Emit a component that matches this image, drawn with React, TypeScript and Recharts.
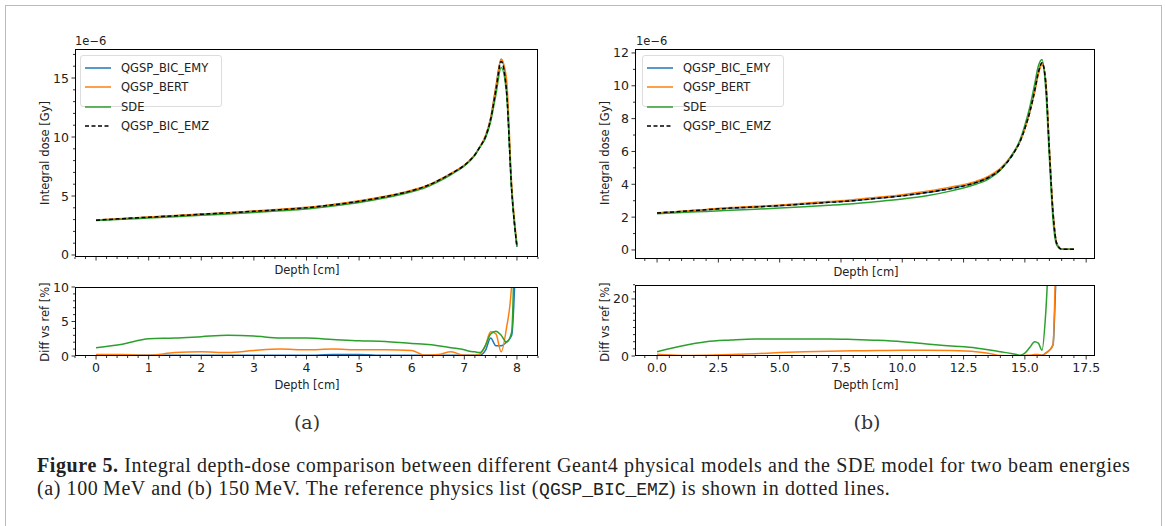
import React from 'react';
import { LineChart, Line, XAxis, YAxis } from 'recharts';

// ---------- data (a) 100 MeV ----------
const depthA = [0, 0.5, 1, 1.5, 2, 2.5, 3, 3.5, 4, 4.5, 5, 5.5, 6, 6.25, 6.5, 6.75, 7, 7.1, 7.2, 7.3, 7.4, 7.5, 7.6, 7.7, 7.8, 7.9, 8.0];
const doseA_EMZ = [2.95, 3.08, 3.2, 3.32, 3.45, 3.57, 3.7, 3.84, 4.0, 4.25, 4.55, 4.95, 5.45, 5.8, 6.3, 6.9, 7.6, 8.0, 8.5, 9.2, 10.0, 11.5, 14.0, 16.4, 14.0, 5.5, 0.7];
const doseA_EMY = [2.95, 3.08, 3.2, 3.32, 3.45, 3.57, 3.7, 3.84, 4.0, 4.25, 4.55, 4.95, 5.45, 5.8, 6.3, 6.9, 7.6, 8.0, 8.5, 9.2, 10.0, 11.6, 14.2, 16.6, 14.3, 5.6, 0.7];
const doseA_BERT = [2.96, 3.09, 3.21, 3.34, 3.47, 3.59, 3.73, 3.88, 4.04, 4.29, 4.6, 4.97, 5.5, 5.82, 6.33, 6.94, 7.61, 8.0, 8.5, 9.2, 10.1, 11.6, 14.3, 16.6, 15.0, 6.0, 0.9];
const doseA_SDE = [2.92, 3.03, 3.13, 3.24, 3.36, 3.47, 3.6, 3.74, 3.9, 4.15, 4.45, 4.85, 5.36, 5.7, 6.2, 6.82, 7.55, 7.95, 8.45, 9.15, 9.9, 11.3, 13.6, 15.9, 13.8, 5.4, 0.7];
const diffA_EMY = [0.1, 0.1, 0.1, 0.1, 0.1, 0.1, 0.1, 0.1, 0.1, 0.2, 0.2, 0.1, 0.1, 0.1, 0.1, 0.1, 0.1, 0.1, 0.1, 0.1, 0.8, 2.6, 1.5, 1.5, 2.0, 3.0, 20];
const diffA_BERT = [0.2, 0.2, 0.1, 0.5, 0.6, 0.5, 0.8, 1.0, 0.9, 1.0, 0.9, 0.9, 0.8, 0.1, 0.2, 0.6, 0.1, 0.1, 0.1, 0.3, 1.5, 3.5, 3.2, 0.6, 4.0, 10.5, 30];
const diffA_SDE = [1.2, 1.7, 2.5, 2.6, 2.8, 3.0, 2.9, 2.6, 2.6, 2.4, 2.2, 2.1, 1.8, 1.7, 1.5, 1.2, 0.9, 0.7, 0.6, 0.5, 1.5, 3.2, 3.6, 3.0, 2.0, 3.5, 40];

// ---------- data (b) 150 MeV ----------
const depthB = [0, 1, 2, 3, 4, 5, 6, 7, 8, 9, 10, 11, 12, 13, 13.5, 14, 14.5, 14.8, 15, 15.2, 15.4, 15.55, 15.7, 15.85, 16.0, 16.15, 16.3, 16.5, 17];
const doseB_EMZ = [2.25, 2.35, 2.45, 2.55, 2.62, 2.7, 2.8, 2.9, 3.0, 3.15, 3.3, 3.5, 3.75, 4.1, 4.4, 4.9, 5.8, 6.6, 7.4, 8.4, 9.7, 10.8, 11.4, 10.2, 6.0, 2.2, 0.4, 0.05, 0.05];
const doseB_EMY = [2.25, 2.35, 2.45, 2.55, 2.62, 2.7, 2.8, 2.9, 3.0, 3.15, 3.3, 3.5, 3.75, 4.1, 4.4, 4.9, 5.8, 6.6, 7.4, 8.4, 9.7, 10.8, 11.4, 10.3, 6.1, 2.3, 0.4, 0.05, 0.05];
const doseB_BERT = [2.26, 2.36, 2.47, 2.58, 2.66, 2.74, 2.85, 2.95, 3.06, 3.21, 3.37, 3.57, 3.83, 4.18, 4.48, 4.97, 5.85, 6.6, 7.4, 8.4, 9.6, 10.7, 11.3, 10.3, 6.2, 2.3, 0.4, 0.05, 0.05];
const doseB_SDE = [2.2, 2.28, 2.35, 2.42, 2.48, 2.55, 2.63, 2.72, 2.82, 2.95, 3.1, 3.3, 3.6, 4.0, 4.3, 4.85, 5.85, 6.7, 7.6, 8.7, 10.1, 11.2, 11.6, 9.8, 5.6, 1.8, 0.3, 0.05, 0.05];
const diffB_EMY = [0.3, 0.1, 0.1, 0.1, 0.1, 0.1, 0.1, 0.1, 0.1, 0.1, 0.1, 0.1, 0.1, 0.1, 0.1, 0.1, 0.1, 0.1, 0.1, 0.1, 0.2, 0.3, 0.3, 1.0, 2.0, 4.0, 30, 30, 30];
const diffB_BERT = [0.6, 0.2, 0.3, 0.5, 0.8, 1.2, 1.5, 1.7, 1.8, 1.9, 2.0, 2.0, 1.9, 1.5, 1.0, 0.2, 0.1, 0.1, 0.2, 0.3, 0.5, 0.5, 0.2, 1.0, 2.0, 4.0, 40, 40, 40];
const diffB_SDE = [1.5, 3.5, 5.0, 5.6, 6.0, 6.0, 6.0, 6.0, 5.8, 5.5, 5.0, 4.2, 3.5, 2.8, 2.2, 1.5, 0.8, 0.3, 1.0, 3.0, 5.0, 4.5, 2.0, 15, 40, 60, 60, 60, 60];

const seriesNames = ['QGSP_BIC_EMY', 'QGSP_BERT', 'SDE', 'QGSP_BIC_EMZ'];
const colors = ['#1f77b4', '#ff7f0e', '#2ca02c', '#000000'];

const ticksAX = [-0.4, -0.2, 0, 0.2, 0.4, 0.6, 0.8, 1, 1.2, 1.4, 1.6, 1.8, 2, 2.2, 2.4, 2.6, 2.8, 3, 3.2, 3.4, 3.6, 3.8, 4, 4.2, 4.4, 4.6, 4.8, 5, 5.2, 5.4, 5.6, 5.8, 6, 6.2, 6.4, 6.6, 6.8, 7, 7.2, 7.4, 7.6, 7.8, 8, 8.2, 8.4];
const majorAX = [0, 1, 2, 3, 4, 5, 6, 7, 8];
const ticksBX = [-0.5, 0, 0.5, 1, 1.5, 2, 2.5, 3, 3.5, 4, 4.5, 5, 5.5, 6, 6.5, 7, 7.5, 8, 8.5, 9, 9.5, 10, 10.5, 11, 11.5, 12, 12.5, 13, 13.5, 14, 14.5, 15, 15.5, 16, 16.5, 17, 17.5];
const majorBX = [0, 2.5, 5, 7.5, 10, 12.5, 15, 17.5];
const ticksAY = [0, 1, 2, 3, 4, 5, 6, 7, 8, 9, 10, 11, 12, 13, 14, 15, 16, 17];
const majorAY = [0, 5, 10, 15];
const ticksAD = [0, 1, 2, 3, 4, 5, 6, 7, 8, 9, 10];
const majorAD = [0, 5, 10];
const ticksBY = [0, 1, 2, 3, 4, 5, 6, 7, 8, 9, 10, 11, 12];
const majorBY = [0, 2, 4, 6, 8, 10, 12];
const ticksBD = [0, 2.5, 5, 7.5, 10, 12.5, 15, 17.5, 20, 22.5, 25];
const majorBD = [0, 20];

const fmt = (v: number, dec: number) => (dec > 0 ? v.toFixed(dec) : String(v));

function XTick(props: any) {
  const { x, y, payload, majors, showLabel, dec } = props;
  const isMajor = majors.includes(payload.value);
  return (
    <g>
      <line x1={x} x2={x} y1={y} y2={y + (isMajor ? 3.5 : 2)} stroke="#000" strokeWidth={0.8} />
      {isMajor && showLabel && (
        <text x={x} y={y + 16} textAnchor="middle" fontSize={12.5} fill="#222" fontFamily="DejaVu Sans">
          {fmt(payload.value, dec)}
        </text>
      )}
    </g>
  );
}
function YTick(props: any) {
  const { x, y, payload, majors } = props;
  const isMajor = majors.includes(payload.value);
  return (
    <g>
      <line x1={x} x2={x - (isMajor ? 3.5 : 2)} y1={y} y2={y} stroke="#000" strokeWidth={0.8} />
      {isMajor && (
        <text x={x - 6} y={y + 4.5} textAnchor="end" fontSize={12.5} fill="#222" fontFamily="DejaVu Sans">
          {payload.value}
        </text>
      )}
    </g>
  );
}

type PanelProps = {
  left: number; top: number; w: number; h: number;
  xs: number[]; ys: number[][];
  xDomain: [number, number]; yDomain: [number, number];
  xTicks: number[]; xMajors: number[]; yTicks: number[]; yMajors: number[];
  showXLabels: boolean; dec: number;
};

function Panel(p: PanelProps) {
  const data = p.xs.map((x, i) => ({ x, s0: p.ys[0][i], s1: p.ys[1][i], s2: p.ys[2][i], s3: p.ys[3][i] }));
  return (
    <>
      <div style={{ position: 'absolute', left: p.left - 60, top: p.top - 10 }}>
        <LineChart width={p.w + 70} height={p.h + 45} data={data} margin={{ top: 10, right: 10, left: 10, bottom: 5 }}>
          <XAxis dataKey="x" type="number" domain={p.xDomain} ticks={p.xTicks} interval={0} allowDataOverflow
            axisLine={false} tickLine={false} tickSize={0} tickMargin={0} height={30}
            tick={<XTick majors={p.xMajors} showLabel={p.showXLabels} dec={p.dec} />} />
          <YAxis type="number" domain={p.yDomain} ticks={p.yTicks} interval={0} allowDataOverflow
            axisLine={false} tickLine={false} tickSize={0} tickMargin={0} width={50}
            tick={<YTick majors={p.yMajors} />} />
          {[0, 1, 2, 3].map((k) => (
            <Line key={k} dataKey={'s' + k} type="monotone" dot={false} isAnimationActive={false}
              stroke={colors[k]} strokeWidth={1.5} strokeDasharray={k === 3 ? '4 2.5' : undefined} />
          ))}
        </LineChart>
      </div>
      <div style={{ position: 'absolute', left: p.left, top: p.top, width: p.w, height: p.h, border: '0.8px solid #000', boxSizing: 'border-box', pointerEvents: 'none' }} />
    </>
  );
}

function Legend({ left, top }: { left: number; top: number }) {
  return (
    <div style={{ position: 'absolute', left, top, width: 142, height: 52, border: '1px solid #ddd', borderRadius: 3, background: 'rgba(255,255,255,0.8)', fontFamily: 'DejaVu Sans', fontSize: 11.5, color: '#222', padding: '2px 0 0 4px', boxSizing: 'border-box' }}>
      {seriesNames.map((n, i) => (
        <div key={n} style={{ display: 'flex', alignItems: 'center', height: 19.5 }}>
          <svg width={26} height={6}><line x1={0} x2={26} y1={3} y2={3} stroke={colors[i]} strokeWidth={1.5} strokeDasharray={i === 3 ? '4 2.5' : undefined} /></svg>
          <span style={{ marginLeft: 10 }}>{n}</span>
        </div>
      ))}
    </div>
  );
}

const sans: React.CSSProperties = { position: 'absolute', fontFamily: 'DejaVu Sans', fontSize: 11.5, color: '#222', whiteSpace: 'nowrap' };
const VLabel = ({ cx, cy, text }: { cx: number; cy: number; text: string }) => (
  <div style={{ ...sans, left: cx, top: cy, transform: 'translate(-50%,-50%) rotate(-90deg)' }}>{text}</div>
);
const HLabel = ({ cx, cy, text }: { cx: number; cy: number; text: string }) => (
  <div style={{ ...sans, left: cx, top: cy, transform: 'translate(-50%,-50%)' }}>{text}</div>
);

export default function App() {
  return (
    <div style={{ position: 'absolute', left: 0, top: 0, width: 1165, height: 526, background: '#fff', overflow: 'hidden' }}>
      <div style={{ position: 'absolute', left: 5, top: 5, width: 1155, height: 540, border: '1px solid #bbb' }} />
      {/* panel a */}
      <Panel left={75} top={49} w={463} h={208} xs={depthA} ys={[doseA_EMY, doseA_BERT, doseA_SDE, doseA_EMZ]}
        xDomain={[-0.4, 8.4]} yDomain={[-0.17, 17.46]} xTicks={ticksAX} xMajors={majorAX} yTicks={ticksAY} yMajors={majorAY} showXLabels={false} dec={0} />
      <Panel left={75} top={287} w={463} h={69} xs={depthA} ys={[diffA_EMY, diffA_BERT, diffA_SDE, depthA.map(() => null as any)]}
        xDomain={[-0.4, 8.4]} yDomain={[0, 10]} xTicks={ticksAX} xMajors={majorAX} yTicks={ticksAD} yMajors={majorAD} showXLabels={true} dec={0} />
      <Legend left={80} top={55} />
      <div style={{ ...sans, left: 75, top: 34, fontSize: 11.5 }}>1e−6</div>
      <VLabel cx={45} cy={153} text="Integral dose [Gy]" />
      <VLabel cx={45} cy={322} text="Diff vs ref [%]" />
      <HLabel cx={307} cy={270} text="Depth [cm]" />
      <HLabel cx={307} cy={385} text="Depth [cm]" />
      {/* panel b */}
      <Panel left={635} top={49} w={460} h={210} xs={depthB} ys={[doseB_EMY, doseB_BERT, doseB_SDE, doseB_EMZ]}
        xDomain={[-0.9, 17.86]} yDomain={[-0.55, 12.24]} xTicks={ticksBX} xMajors={majorBX} yTicks={ticksBY} yMajors={majorBY} showXLabels={false} dec={1} />
      <Panel left={635} top={285} w={460} h={71} xs={depthB} ys={[diffB_EMY, diffB_BERT, diffB_SDE, depthB.map(() => null as any)]}
        xDomain={[-0.9, 17.86]} yDomain={[0, 24.9]} xTicks={ticksBX} xMajors={majorBX} yTicks={ticksBD} yMajors={majorBD} showXLabels={true} dec={1} />
      <Legend left={642} top={55} />
      <div style={{ ...sans, left: 636, top: 34, fontSize: 11.5 }}>1e−6</div>
      <VLabel cx={605} cy={153} text="Integral dose [Gy]" />
      <VLabel cx={605} cy={322} text="Diff vs ref [%]" />
      <HLabel cx={866} cy={272} text="Depth [cm]" />
      <HLabel cx={866} cy={385} text="Depth [cm]" />
      {/* sub labels */}
      <div style={{ position: 'absolute', left: 307, top: 422, transform: 'translate(-50%,-50%)', fontFamily: 'DejaVu Serif', fontSize: 19, color: '#333' }}>(a)</div>
      <div style={{ position: 'absolute', left: 867, top: 422, transform: 'translate(-50%,-50%)', fontFamily: 'DejaVu Serif', fontSize: 19, color: '#333' }}>(b)</div>
      <div style={{ position: 'absolute', left: 37, top: 454, width: 1120, fontFamily: 'Liberation Serif', fontSize: 20, letterSpacing: 0.6, lineHeight: '23px', color: '#222', whiteSpace: 'nowrap' }}>
        <div><b>Figure 5.</b> Integral depth-dose comparison between different Geant4 physical models and the SDE model for two beam energies</div>
        <div>(a) 100&#8201;MeV and (b) 150&#8201;MeV. The reference physics list (<span style={{ fontFamily: 'Liberation Mono', fontSize: 18, letterSpacing: 0 }}>QGSP_BIC_EMZ</span>) is shown in dotted lines.</div>
      </div>
    </div>
  );
}
